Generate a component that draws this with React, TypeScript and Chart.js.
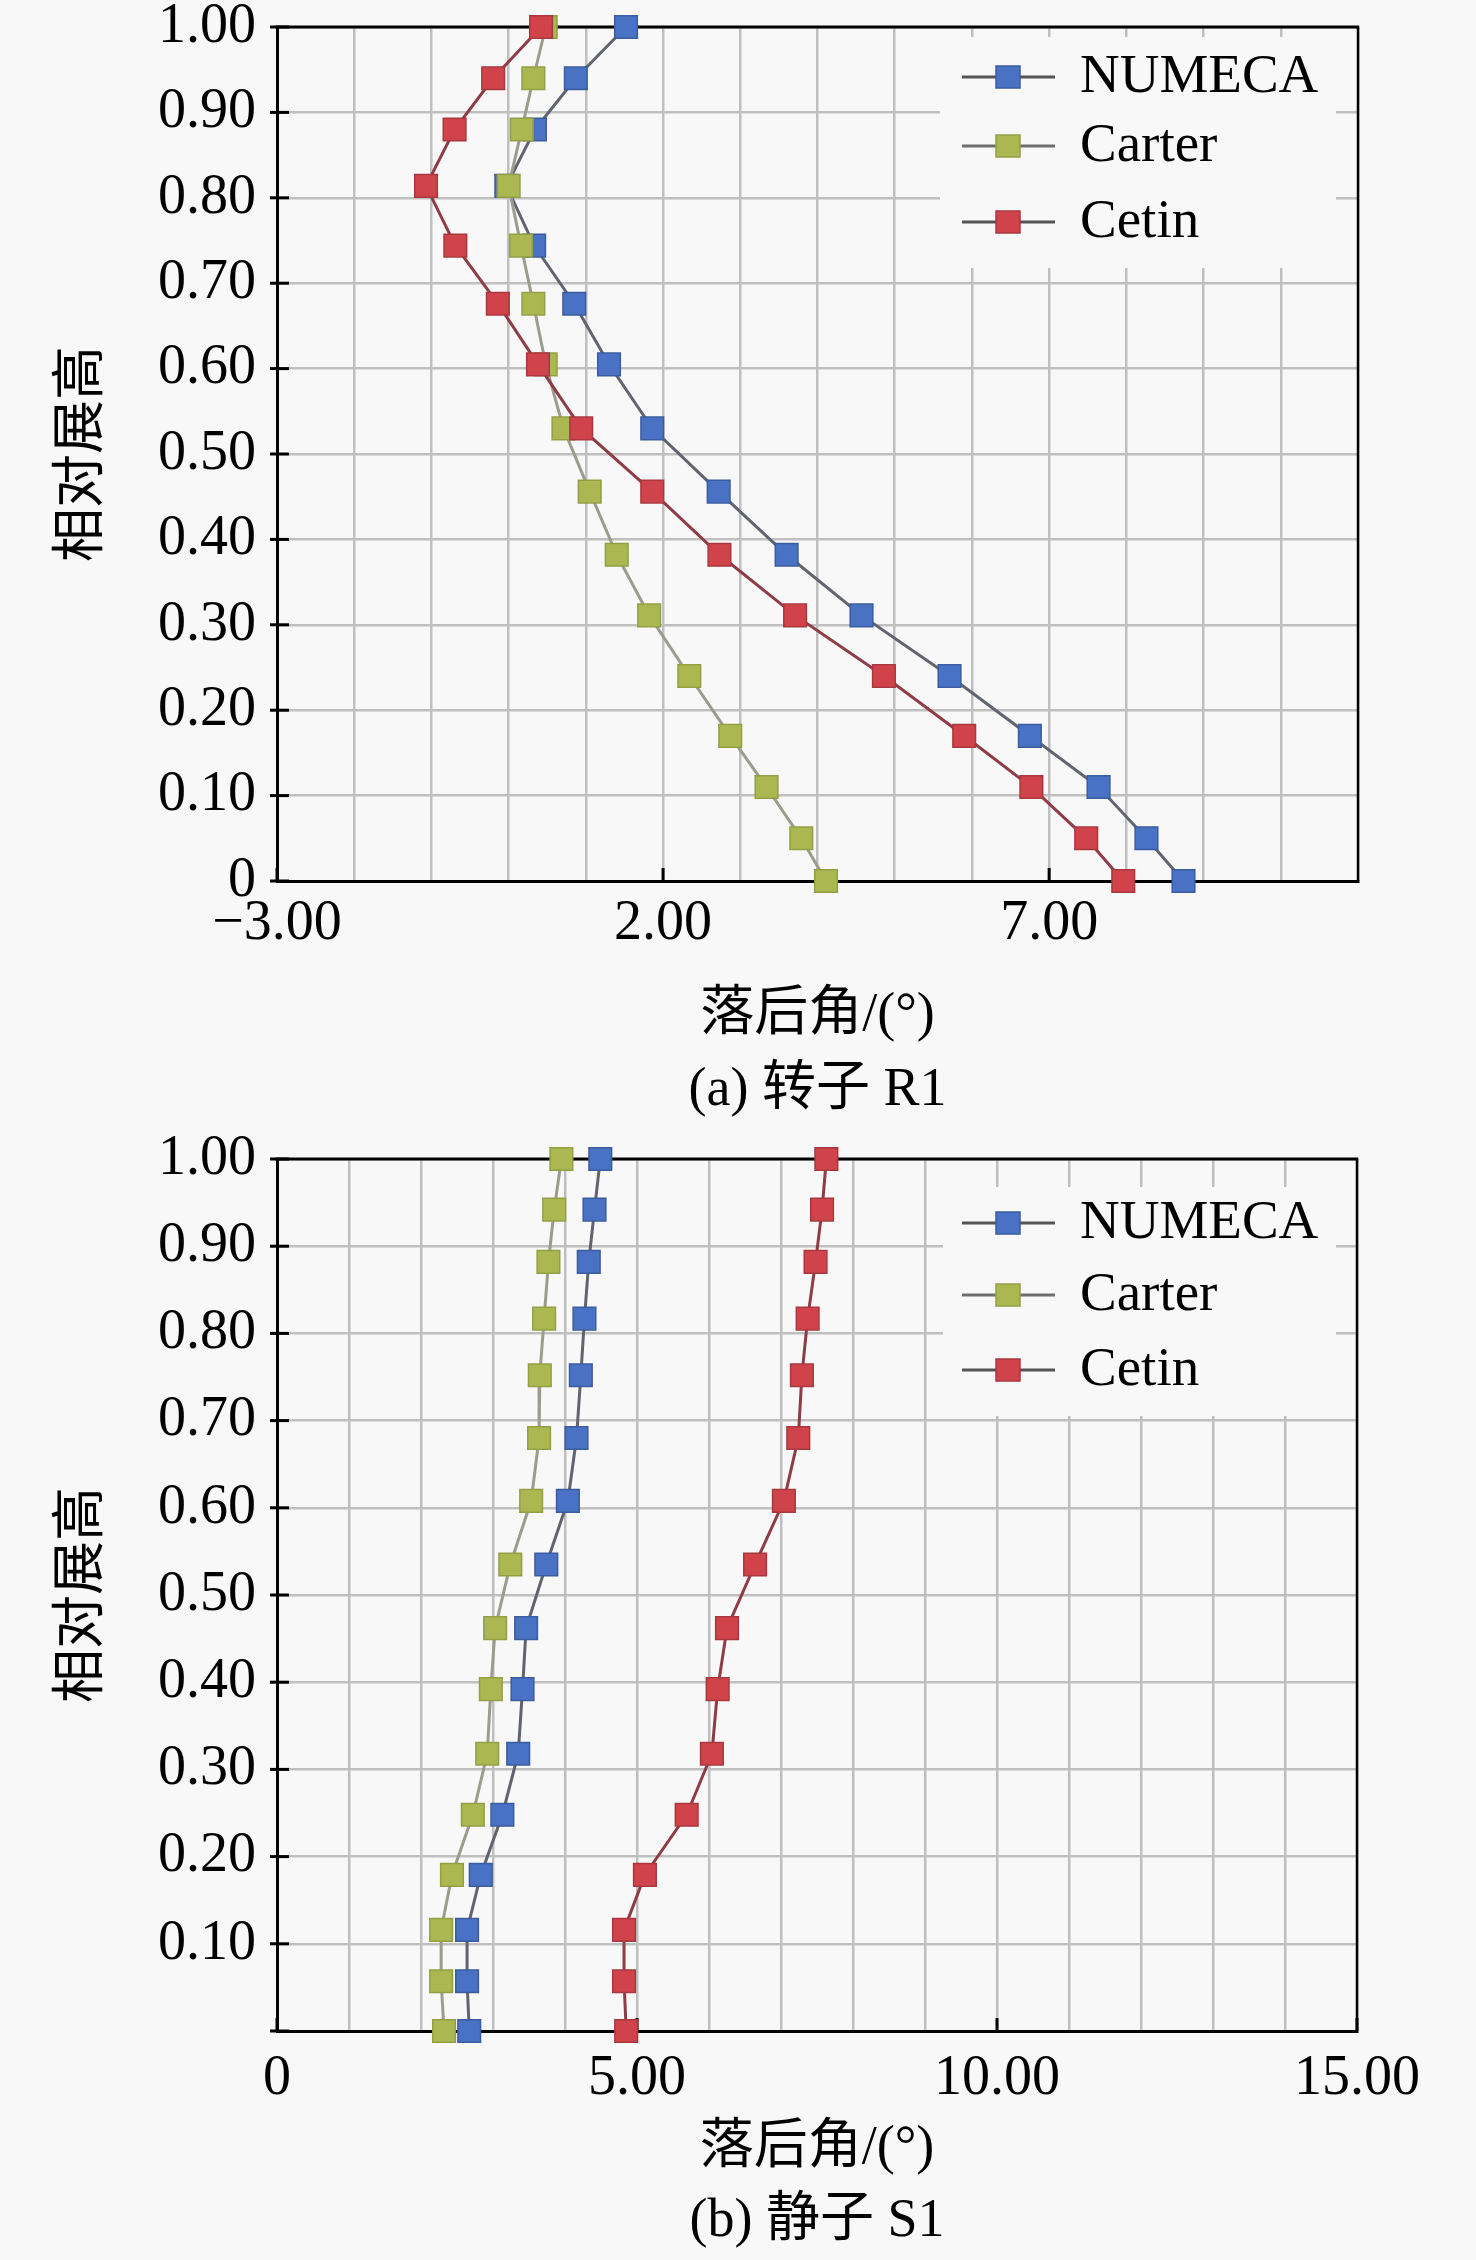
import React, { useEffect, useRef } from "react";
import { Chart, registerables } from "chart.js";

Chart.register(...registerables);

// ---------- data: (a) rotor R1 ----------
const r1Span = [1.0, 0.94, 0.88, 0.814, 0.744, 0.676, 0.605, 0.53, 0.456, 0.382, 0.311, 0.24, 0.17, 0.11, 0.05, 0];
const r1Numeca = [1.52, 0.87, 0.34, -0.03, 0.33, 0.85, 1.3, 1.86, 2.72, 3.6, 4.57, 5.71, 6.75, 7.64, 8.26, 8.74];
const r1Carter = [0.48, 0.32, 0.17, 0.0, 0.16, 0.32, 0.48, 0.71, 1.05, 1.4, 1.82, 2.34, 2.87, 3.34, 3.79, 4.11];
const r1Cetin = [0.42, -0.2, -0.7, -1.07, -0.69, -0.14, 0.38, 0.94, 1.86, 2.73, 3.71, 4.86, 5.9, 6.77, 7.48, 7.96];
const r1XMajor = [-3, 2, 7];
const r1XLabels = ["\u22123.00", "2.00", "7.00"];
const r1YLabels = ["0", "0.10", "0.20", "0.30", "0.40", "0.50", "0.60", "0.70", "0.80", "0.90", "1.00"];

// ---------- data: (b) stator S1 ----------
const s1Span = [1.0, 0.942, 0.882, 0.817, 0.752, 0.68, 0.608, 0.535, 0.462, 0.392, 0.318, 0.248, 0.179, 0.116, 0.057, 0];
const s1Numeca = [4.49, 4.41, 4.33, 4.27, 4.22, 4.16, 4.04, 3.74, 3.46, 3.41, 3.35, 3.13, 2.83, 2.64, 2.64, 2.67];
const s1Carter = [3.95, 3.85, 3.77, 3.71, 3.65, 3.64, 3.53, 3.24, 3.03, 2.97, 2.92, 2.72, 2.43, 2.28, 2.28, 2.32];
const s1Cetin = [7.63, 7.57, 7.48, 7.37, 7.29, 7.24, 7.04, 6.64, 6.25, 6.12, 6.04, 5.69, 5.11, 4.82, 4.82, 4.85];
const s1XMajor = [0, 5, 10, 15];
const s1XLabels = ["0", "5.00", "10.00", "15.00"];
const s1YLabels = ["", "0.10", "0.20", "0.30", "0.40", "0.50", "0.60", "0.70", "0.80", "0.90", "1.00"];

const seriesNames = ["NUMECA", "Carter", "Cetin"];
const xTitle = "落后角/(°)";
const yTitle = "相对展高";
const captionA = "(a) 转子 R1";
const captionB = "(b) 静子 S1";

// ---------- styles ----------
const BG = "#f8f8f8";
const SERIF = "'Liberation Serif', 'Times New Roman', serif";
const CJK = "'Liberation Serif', 'Noto Sans CJK SC', sans-serif";
const markerFill = ["#4a72c4", "#abb852", "#d0434a"];
const markerEdge = ["#3b5c9e", "#939f45", "#a8383e"];
const lineColors = ["#60646e", "#9b9d8c", "#8e3c47"];
const legendLine = ["#555555", "#6e6e6e", "#555555"];
const GRID = "#bfbfbf";

type Layout = {
  padTop: number;
  padRight: number;
  xScaleH: number;
  xTickPad: number;
  xTitlePadBottom: number;
  captionPadBottom: number;
  legendBox: number[];
  legendRows: number[];
};

type Panel = {
  span: number[];
  series: number[][];
  xMin: number;
  xMax: number;
  xMajor: number[];
  xLabels: string[];
  yLabels: string[];
  caption: string;
  layout: Layout;
};

const W = 1476;
const H = 1130;

function makeFramePlugin(p: Panel) {
  return {
    id: "frame",
    beforeDatasetsDraw(chart: any) {
      const { ctx, chartArea } = chart;
      const { left, right, top, bottom } = chartArea;
      const xs = chart.scales.x;
      const ys = chart.scales.y;
      const lg = p.layout;
      ctx.save();
      // legend background (hides grid)
      const [bx1, by1, bx2, by2] = lg.legendBox;
      ctx.fillStyle = BG;
      ctx.fillRect(bx1, by1, bx2 - bx1, by2 - by1);
      // top and right frame
      ctx.strokeStyle = "#000";
      ctx.lineWidth = 3;
      ctx.beginPath();
      ctx.moveTo(left - 1.5, top);
      ctx.lineTo(right + 1.2, top);
      ctx.stroke();
      ctx.lineWidth = 2.5;
      ctx.beginPath();
      ctx.moveTo(right, top);
      ctx.lineTo(right, bottom);
      ctx.stroke();
      // y tick marks
      ctx.lineWidth = 3;
      ys.ticks.forEach((t: any) => {
        const y = ys.getPixelForValue(t.value);
        ctx.beginPath();
        ctx.moveTo(left - 7, y);
        ctx.lineTo(left + 12, y);
        ctx.stroke();
      });
      // x major tick marks (inside)
      p.xMajor.forEach((v) => {
        const x = xs.getPixelForValue(v);
        ctx.beginPath();
        ctx.moveTo(x, bottom);
        ctx.lineTo(x, bottom - 13);
        ctx.stroke();
      });
      // legend entries
      chart.data.datasets.forEach((ds: any, i: number) => {
        const y = lg.legendRows[i];
        ctx.strokeStyle = legendLine[i];
        ctx.lineWidth = 3;
        ctx.beginPath();
        ctx.moveTo(962, y);
        ctx.lineTo(1055, y);
        ctx.stroke();
        ctx.fillStyle = markerFill[i];
        ctx.fillRect(996, y - 11, 24, 22);
        ctx.strokeStyle = markerEdge[i];
        ctx.lineWidth = 1.5;
        ctx.strokeRect(996, y - 11, 24, 22);
        ctx.fillStyle = "#000";
        ctx.font = `55px ${SERIF}`;
        ctx.textAlign = "left";
        ctx.textBaseline = "middle";
        ctx.fillText(ds.label, 1080, y + 1);
      });
      ctx.restore();
    },
  };
}

function buildChart(canvas: HTMLCanvasElement, p: Panel) {
  const L = p.layout;
  const datasets = p.series.map((vals, i) => ({
    label: seriesNames[i],
    data: vals.map((v, k) => ({ x: v, y: p.span[k] })),
    showLine: true,
    borderColor: lineColors[i],
    borderWidth: 3,
    pointStyle: "rect",
    pointRadius: 16,
    pointHoverRadius: 16,
    pointBackgroundColor: markerFill[i],
    pointBorderColor: markerEdge[i],
    pointBorderWidth: 1.5,
    order: 3 - i,
    clip: false,
  }));
  return new Chart(canvas, {
    type: "scatter",
    data: { datasets },
    plugins: [makeFramePlugin(p)],
    options: {
      animation: false,
      responsive: false,
      devicePixelRatio: 1,
      events: [],
      layout: { padding: { top: L.padTop, right: L.padRight, bottom: 0, left: 0 } },
      plugins: {
        legend: { display: false },
        tooltip: { enabled: false },
        title: {
          display: true,
          fullSize: false,
          position: "bottom",
          text: p.caption,
          color: "#000",
          font: { family: CJK, size: 54, weight: "normal", lineHeight: 1.2 },
          padding: { top: 0, bottom: L.captionPadBottom },
        },
      },
      scales: {
        x: {
          type: "linear",
          min: p.xMin,
          max: p.xMax,
          afterFit: (s: any) => {
            s.height = L.xScaleH;
            s.paddingLeft = 0;
            s.paddingRight = 0;
          },
          ticks: {
            stepSize: 1,
            autoSkip: false,
            maxRotation: 0,
            minRotation: 0,
            padding: L.xTickPad,
            color: "#000",
            font: { family: SERIF, size: 56, lineHeight: 1.2 },
            callback: (v: any) => {
              const idx = p.xMajor.findIndex((m) => Math.abs(m - Number(v)) < 1e-6);
              return idx >= 0 ? p.xLabels[idx] : "";
            },
          },
          grid: { color: GRID, lineWidth: 2.5, drawTicks: false },
          border: { color: "#000", width: 3 },
          title: {
            display: true,
            text: xTitle,
            color: "#000",
            font: { family: CJK, size: 54, lineHeight: 1.2 },
            padding: { top: 0, bottom: L.xTitlePadBottom },
          },
        },
        y: {
          type: "linear",
          min: 0,
          max: 1,
          afterFit: (s: any) => {
            s.width = 277;
            s.paddingTop = 0;
            s.paddingBottom = 0;
          },
          ticks: {
            stepSize: 0.1,
            autoSkip: false,
            padding: 21,
            color: "#000",
            font: { family: SERIF, size: 56, lineHeight: 1.2 },
            callback: (v: any) => {
              const idx = Math.round(Number(v) * 10);
              return p.yLabels[idx] ?? "";
            },
          },
          grid: { color: GRID, lineWidth: 2.5, drawTicks: false },
          border: { color: "#000", width: 3 },
          title: {
            display: true,
            text: yTitle,
            color: "#000",
            font: { family: CJK, size: 54, lineHeight: 1.2 },
            padding: { top: 51.6, bottom: 0 },
          },
        },
      },
    } as any,
  });
}

const panelA: Panel = {
  span: r1Span,
  series: [r1Numeca, r1Carter, r1Cetin],
  xMin: -3,
  xMax: 11,
  xMajor: r1XMajor,
  xLabels: r1XLabels,
  yLabels: r1YLabels,
  caption: captionA,
  layout: {
    padTop: 27,
    padRight: 118,
    xScaleH: 177.6,
    xTickPad: 9.4,
    xTitlePadBottom: 10.2,
    captionPadBottom: 6.6,
    legendBox: [940, 37, 1336, 268],
    legendRows: [77, 146, 222],
  },
};

const panelB: Panel = {
  span: s1Span,
  series: [s1Numeca, s1Carter, s1Cetin],
  xMin: 0,
  xMax: 15,
  xMajor: s1XMajor,
  xLabels: s1XLabels,
  yLabels: s1YLabels,
  caption: captionB,
  layout: {
    padTop: 29,
    padRight: 119,
    xScaleH: 158.6,
    xTickPad: 14.6,
    xTitlePadBottom: 8,
    captionPadBottom: 5.6,
    legendBox: [943, 57, 1336, 286],
    legendRows: [93, 165, 240],
  },
};

function ChartPanel({ panel, top }: { panel: Panel; top: number }) {
  const ref = useRef<HTMLCanvasElement | null>(null);
  useEffect(() => {
    if (!ref.current) return;
    const c = buildChart(ref.current, panel);
    return () => c.destroy();
  }, [panel]);
  return (
    <canvas
      ref={ref}
      width={W}
      height={H}
      style={{ position: "absolute", left: 0, top, width: W, height: H, display: "block" }}
    />
  );
}

export default function App() {
  return (
    <div
      style={{
        position: "absolute",
        left: 0,
        top: 0,
        width: W,
        height: 2260,
        background: BG,
        overflow: "hidden",
      }}
    >
      <ChartPanel panel={panelA} top={0} />
      <ChartPanel panel={panelB} top={1130} />
    </div>
  );
}
